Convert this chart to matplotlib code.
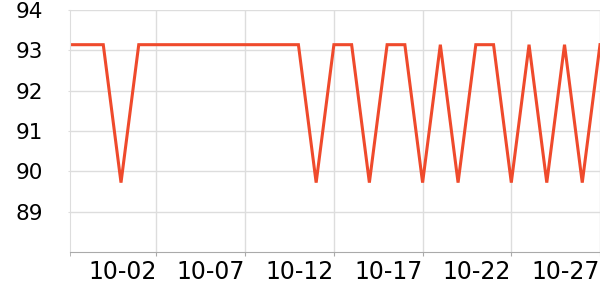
import matplotlib
matplotlib.use("Agg")
import matplotlib.pyplot as plt
import matplotlib.dates as mdates
import pandas as pd

HI = 93.14
LO = 89.72

dates = pd.date_range("2023-09-27", "2023-10-27", freq="D")
values = [HI, HI, HI, LO] + [HI] * 10 + [LO, HI, HI, LO, HI, HI, LO, HI, LO, HI, HI, LO, HI, LO, HI, LO, HI]
tick_dates = pd.to_datetime(["2023-10-02", "2023-10-07", "2023-10-12", "2023-10-17", "2023-10-22", "2023-10-27"])
yticks = [89, 90, 91, 92, 93, 94]

fig = plt.figure(figsize=(6, 3), dpi=100)
ax = fig.add_axes([70 / 600, 1 - 252 / 300, 1 - 70 / 600, 242 / 300])

ax.plot(dates, values, color="#ef4a2c", lw=2.2, solid_joinstyle="miter")

ax.set_ylim(88, 94)
ax.set_xlim(pd.Timestamp("2023-09-27 03:00"), pd.Timestamp("2023-10-27"))
ax.set_yticks(yticks)
ax.set_xticks(tick_dates)
ax.set_xticks([pd.Timestamp("2023-09-27 03:00")], minor=True)
ax.xaxis.set_major_formatter(mdates.DateFormatter("%m-%d"))

ax.grid(True, color="#dddddd", lw=1)
ax.set_axisbelow(True)
for s in ["top", "right"]:
    ax.spines[s].set_visible(False)
ax.spines["left"].set_color("#dddddd")
ax.spines["bottom"].set_color("#aaaaaa")

ax.tick_params(axis="y", length=1.5, color="#dddddd", pad=18, labelsize=15.5)
ax.tick_params(axis="x", which="both", length=3, color="#aaaaaa", pad=3, labelsize=17)
for lab in ax.get_xticklabels():
    lab.set_ha("right")

fig.savefig("out.png", dpi=100)
